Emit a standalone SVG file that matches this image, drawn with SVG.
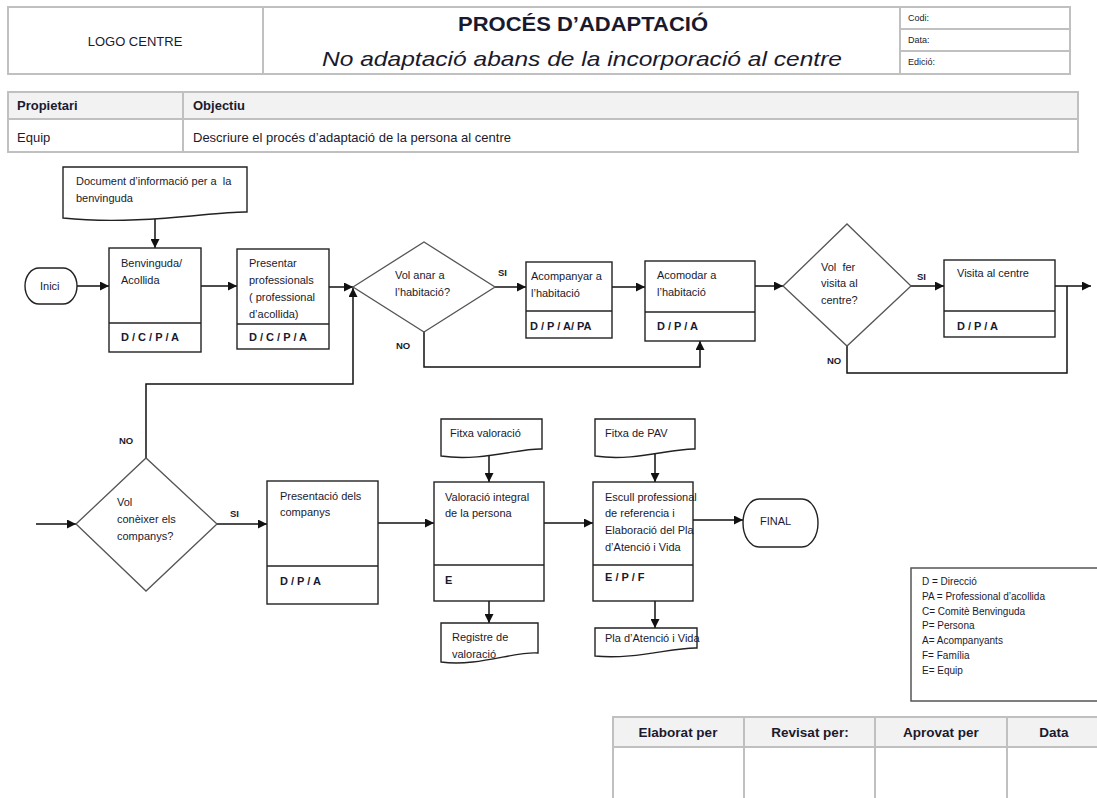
<svg xmlns="http://www.w3.org/2000/svg" width="1097" height="798" viewBox="0 0 1097 798">
<defs>
<marker id="arr" markerWidth="9" markerHeight="9" refX="9" refY="4.5" orient="auto" markerUnits="userSpaceOnUse"><path d="M0,0 L9,4.5 L0,9 z" fill="#111"/></marker>
<style>
.t{font-family:"Liberation Sans",Arial,sans-serif;fill:#1a1a2e}
.f{font-size:11px}
.b{font-weight:bold}
.tbl{fill:none;stroke:#c0c0c0;stroke-width:2}
.hd{fill:#f2f2f2;stroke:#c0c0c0;stroke-width:2}
.box{fill:#fff;stroke:#222;stroke-width:1.4}
.dia{fill:#fff;stroke:#555;stroke-width:1.3}
.c{fill:none;stroke:#111;stroke-width:1.5}
</style>
</defs>
<rect width="1097" height="798" fill="#fff"/>

<g id="header">
<rect class="tbl" x="8" y="7" width="1062" height="67"/>
<line class="tbl" x1="263" y1="7" x2="263" y2="74"/>
<line class="tbl" x1="900" y1="7" x2="900" y2="74"/>
<line class="tbl" x1="900" y1="29" x2="1070" y2="29"/>
<line class="tbl" x1="900" y1="51" x2="1070" y2="51"/>
<text class="t" x="135" y="46" font-size="13" text-anchor="middle">LOGO CENTRE</text>
<text class="t b" x="583" y="31" font-size="21" text-anchor="middle" textLength="250" lengthAdjust="spacingAndGlyphs">PROCÉS D’ADAPTACIÓ</text>
<text class="t" x="582" y="66" font-size="21" font-style="italic" text-anchor="middle" textLength="520" lengthAdjust="spacingAndGlyphs">No adaptació abans de la incorporació al centre</text>
<text class="t" x="908" y="21" font-size="9">Codi:</text>
<text class="t" x="908" y="43" font-size="9">Data:</text>
<text class="t" x="908" y="65" font-size="9">Edició:</text>
</g>

<g id="objectiu-table">
<rect class="hd" x="8" y="92" width="1070" height="27"/>
<rect class="tbl" x="8" y="92" width="1070" height="60"/>
<line class="tbl" x1="183" y1="92" x2="183" y2="152"/>
<text class="t b" x="17" y="110" font-size="13">Propietari</text>
<text class="t b" x="193" y="110" font-size="13">Objectiu</text>
<text class="t" x="17" y="142" font-size="13">Equip</text>
<text class="t" x="193" y="142" font-size="13">Descriure el procés d’adaptació de la persona al centre</text>
</g>

<g id="connectors">
<line class="c" x1="155" y1="219" x2="155" y2="248" marker-end="url(#arr)"/>
<line class="c" x1="77" y1="286" x2="109" y2="286" marker-end="url(#arr)"/>
<line class="c" x1="201" y1="286" x2="237" y2="286" marker-end="url(#arr)"/>
<line class="c" x1="329" y1="287" x2="353" y2="287" marker-end="url(#arr)"/>
<polyline class="c" points="146,459 146,384 353,384 353,288" marker-end="url(#arr)"/>
<line class="c" x1="495" y1="287" x2="526" y2="287" marker-end="url(#arr)"/>
<line class="c" x1="612" y1="287" x2="645" y2="287" marker-end="url(#arr)"/>
<polyline class="c" points="424,332 424,367 700,367 700,341" marker-end="url(#arr)"/>
<line class="c" x1="755" y1="286" x2="783" y2="286" marker-end="url(#arr)"/>
<line class="c" x1="911" y1="286" x2="944" y2="286" marker-end="url(#arr)"/>
<line class="c" x1="1055" y1="286" x2="1091" y2="286" marker-end="url(#arr)"/>
<polyline class="c" points="847,346 847,373 1067,373 1067,286"/>
<line class="c" x1="36" y1="524" x2="76" y2="524" marker-end="url(#arr)"/>
<line class="c" x1="217" y1="524" x2="267" y2="524" marker-end="url(#arr)"/>
<line class="c" x1="378" y1="523" x2="434" y2="523" marker-end="url(#arr)"/>
<line class="c" x1="489" y1="454" x2="489" y2="482" marker-end="url(#arr)"/>
<line class="c" x1="489" y1="601" x2="489" y2="623" marker-end="url(#arr)"/>
<line class="c" x1="544" y1="523" x2="593" y2="523" marker-end="url(#arr)"/>
<line class="c" x1="655" y1="452" x2="655" y2="482" marker-end="url(#arr)"/>
<line class="c" x1="655" y1="601" x2="655" y2="628" marker-end="url(#arr)"/>
<line class="c" x1="693" y1="520" x2="743" y2="520" marker-end="url(#arr)"/>
<text class="t b" x="498" y="276" font-size="9.5">SI</text>
<text class="t b" x="396" y="349" font-size="9.5">NO</text>
<text class="t b" x="917" y="280" font-size="9.5">SI</text>
<text class="t b" x="827" y="364" font-size="9.5">NO</text>
<text class="t b" x="119" y="444" font-size="9.5">NO</text>
<text class="t b" x="230" y="517" font-size="9.5">SI</text>
</g>

<g id="doc-benvinguda">
<path class="box" d="M63,167 H247 V212 C215,211 140,226 63,218 Z"/>
<text class="t f" x="76" y="185" xml:space="preserve">Document d’informació per a  la</text>
<text class="t f" x="76" y="202">benvinguda</text>
</g>

<g id="inici">
<rect class="box" x="25" y="268" width="52" height="36" rx="14" ry="18"/>
<text class="t f" x="40" y="290">Inici</text>
</g>

<g id="benvinguda">
<rect class="box" x="109" y="248" width="92" height="104"/>
<line class="box" x1="109" y1="323" x2="201" y2="323"/>
<text class="t f" x="121" y="267">Benvinguda/</text>
<text class="t f" x="121" y="284">Acollida</text>
<text class="t f b" x="121" y="341">D / C / P / A</text>
</g>

<g id="presentar">
<rect class="box" x="237" y="249" width="92" height="100"/>
<line class="box" x1="237" y1="324" x2="329" y2="324"/>
<text class="t f" x="249" y="267">Presentar</text>
<text class="t f" x="249" y="284">professionals</text>
<text class="t f" x="249" y="301">( professional</text>
<text class="t f" x="249" y="318">d’acollida)</text>
<text class="t f b" x="249" y="341">D / C / P / A</text>
</g>

<g id="vol-habitacio">
<polygon class="dia" points="353,287 424,242 495,287 424,332"/>
<text class="t f" x="395" y="279">Vol anar a</text>
<text class="t f" x="395" y="296">l’habitació?</text>
</g>

<g id="acompanyar">
<rect class="box" x="526" y="262" width="86" height="76"/>
<line class="box" x1="526" y1="311" x2="612" y2="311"/>
<text class="t f" x="531" y="280">Acompanyar a</text>
<text class="t f" x="531" y="297">l’habitació</text>
<text class="t f b" x="530" y="330">D / P / A/ PA</text>
</g>

<g id="acomodar">
<rect class="box" x="645" y="261" width="110" height="80"/>
<line class="box" x1="645" y1="312" x2="755" y2="312"/>
<text class="t f" x="657" y="279">Acomodar a</text>
<text class="t f" x="657" y="296">l’habitació</text>
<text class="t f b" x="657" y="330">D / P / A</text>
</g>

<g id="vol-visita">
<polygon class="dia" points="783,286 847,224 911,286 847,346"/>
<text class="t f" x="821" y="271" xml:space="preserve">Vol  fer</text>
<text class="t f" x="821" y="287">visita al</text>
<text class="t f" x="821" y="304">centre?</text>
</g>

<g id="visita">
<rect class="box" x="944" y="260" width="111" height="77"/>
<line class="box" x1="944" y1="311" x2="1055" y2="311"/>
<text class="t f" x="957" y="277">Visita al centre</text>
<text class="t f b" x="957" y="330">D / P / A</text>
</g>

<g id="vol-coneixer">
<polygon class="dia" points="76,524 146,458 217,524 146,591"/>
<text class="t f" x="117" y="506">Vol</text>
<text class="t f" x="117" y="523">conèixer els</text>
<text class="t f" x="117" y="540">companys?</text>
</g>

<g id="presentacio">
<rect class="box" x="267" y="481" width="111" height="123"/>
<line class="box" x1="267" y1="566" x2="378" y2="566"/>
<text class="t f" x="280" y="500">Presentació dels</text>
<text class="t f" x="280" y="516">companys</text>
<text class="t f b" x="280" y="585">D / P / A</text>
</g>

<g id="fitxa-valoracio">
<path class="box" d="M441,419 H542 V449 C520,448 480,462 441,456 Z"/>
<text class="t f" x="450" y="437">Fitxa valoració</text>
</g>

<g id="valoracio">
<rect class="box" x="434" y="482" width="110" height="119"/>
<line class="box" x1="434" y1="565" x2="544" y2="565"/>
<text class="t f" x="445" y="501">Valoració integral</text>
<text class="t f" x="445" y="517">de la persona</text>
<text class="t f b" x="445" y="584">E</text>
</g>

<g id="registre">
<path class="box" d="M441,623 H538 V653 C515,651 478,667 441,662 Z"/>
<text class="t f" x="452" y="641">Registre de</text>
<text class="t f" x="452" y="658">valoració</text>
</g>

<g id="fitxa-pav">
<path class="box" d="M595,419 H695 V449 C672,448 634,462 595,456 Z"/>
<text class="t f" x="605" y="437">Fitxa de PAV</text>
</g>

<g id="escull">
<rect class="box" x="593" y="482" width="100" height="119"/>
<line class="box" x1="593" y1="565" x2="693" y2="565"/>
<text class="t f" x="605" y="501">Escull professional</text>
<text class="t f" x="605" y="517">de referencia i</text>
<text class="t f" x="605" y="534">Elaboració del Pla</text>
<text class="t f" x="605" y="551">d’Atenció i Vida</text>
<text class="t f b" x="605" y="581">E / P / F</text>
</g>

<g id="pla">
<path class="box" d="M595,628 H697 V648 C674,647 634,660 595,656 Z"/>
<text class="t f" x="605" y="642">Pla d’Atenció i Vida</text>
</g>

<g id="final">
<rect class="box" x="743" y="499" width="75" height="48" rx="16" ry="24"/>
<text class="t f" x="760" y="525">FINAL</text>
</g>

<g id="legend">
<rect x="911" y="568" width="190" height="133" fill="#fff" stroke="#555" stroke-width="1.5"/>
<text class="t" font-size="10" x="922" y="585">D = Direcció</text>
<text class="t" font-size="10" x="922" y="600">PA = Professional d’acollida</text>
<text class="t" font-size="10" x="922" y="615">C= Comitè Benvinguda</text>
<text class="t" font-size="10" x="922" y="629">P= Persona</text>
<text class="t" font-size="10" x="922" y="644">A= Acompanyants</text>
<text class="t" font-size="10" x="922" y="659">F= Família</text>
<text class="t" font-size="10" x="922" y="674">E= Equip</text>
</g>

<g id="signature-table">
<rect class="hd" x="613" y="717" width="490" height="30"/>
<line class="tbl" x1="613" y1="717" x2="613" y2="800"/>
<line class="tbl" x1="744" y1="717" x2="744" y2="800"/>
<line class="tbl" x1="875" y1="717" x2="875" y2="800"/>
<line class="tbl" x1="1007" y1="717" x2="1007" y2="800"/>
<text class="t b" x="678" y="737" font-size="13.5" text-anchor="middle">Elaborat per</text>
<text class="t b" x="810" y="737" font-size="13.5" text-anchor="middle">Revisat per:</text>
<text class="t b" x="941" y="737" font-size="13.5" text-anchor="middle">Aprovat per</text>
<text class="t b" x="1054" y="737" font-size="13.5" text-anchor="middle">Data</text>
</g>
</svg>
